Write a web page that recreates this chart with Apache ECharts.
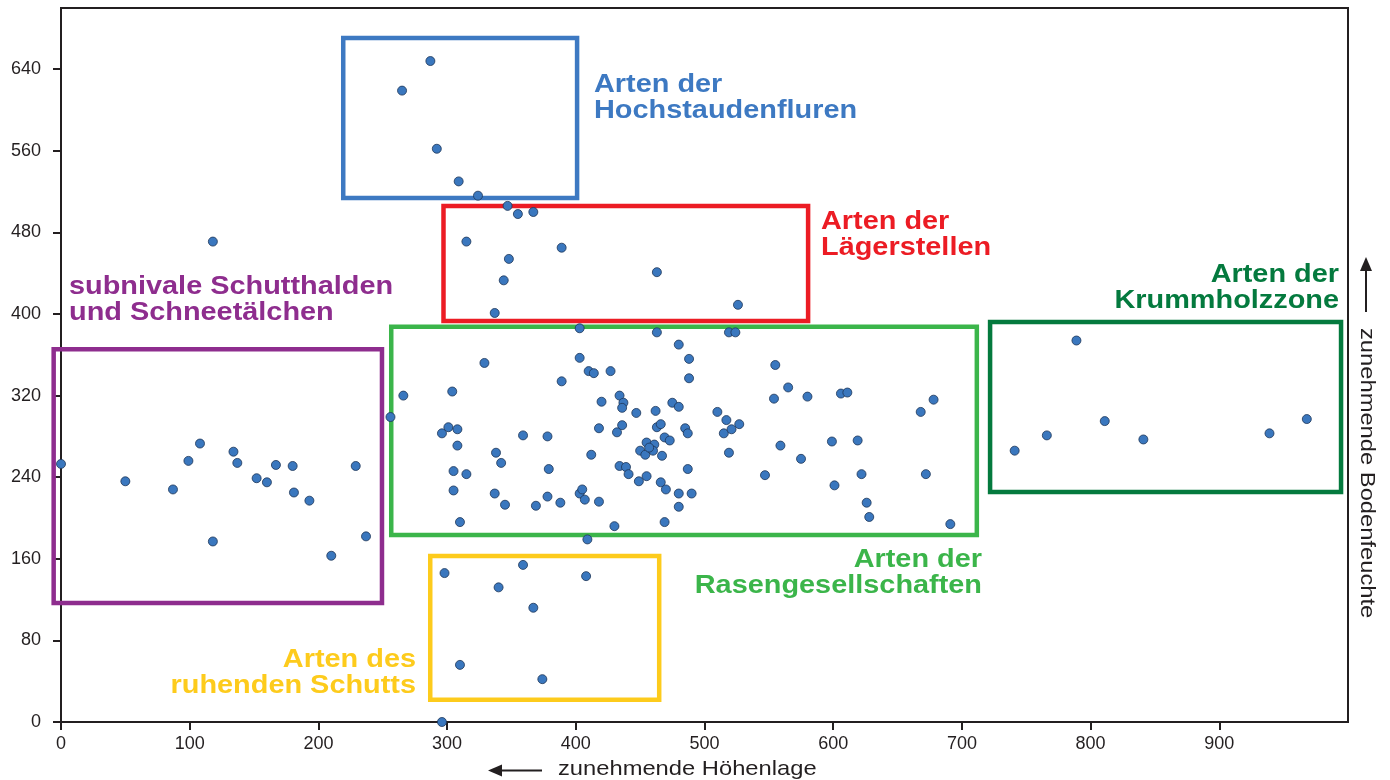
<!DOCTYPE html>
<html>
<head>
<meta charset="utf-8">
<script src="https://cdn.jsdelivr.net/npm/echarts@6/dist/echarts.min.js"></script>
<style>
html,body{margin:0;padding:0;background:#fff;}
#chart{width:1390px;height:780px;}
</style>
</head>
<body>
<div id="chart"></div>
<script>
// ---- tick labels ----
const xTicks = [0, 100, 200, 300, 400, 500, 600, 700, 800, 900];
const yTicks = [0, 80, 160, 240, 320, 400, 480, 560, 640];

// ---- species points per zone [Höhenlage, Bodenfeuchte] ----
const hochstauden = [[287,648],[265,619],[292,562],[309,530],[324,516]];
const laegerstellen = [[347,506],[355,498],[367,500],[315,471],[389,465],[348,454],[344,433],[463,441],[526,409],[337,401]];
const subnival = [[118,471],[0,253],[50,236],[87,228],[99,256],[108,273],[134,265],[137,254],[152,239],[160,235],[167,252],[180,251],[181,225],[193,217],[229,251],[237,182],[210,163],[118,177]];
const krummholz = [[789,374],[741,266],[766,281],[811,295],[841,277],[939,283],[968,297]];
const schutt = [[298,146],[359,154],[408,143],[340,132],[367,112],[310,56],[374,42],[296,0]];
const rasen = [[403,386],[463,382],[519,382],[524,382],[480,370],[488,356],[488,337],[403,357],[410,344],[414,342],[427,344],[389,334],[329,352],[266,320],[304,324],[256,299],[296,283],[301,289],[308,287],[308,271],[359,281],[378,280],[338,264],[342,254],[305,246],[315,243],[379,248],[305,227],[337,224],[345,213],[369,212],[378,221],[388,215],[310,196],[412,262],[403,224],[405,228],[407,218],[418,216],[430,192],[409,179],[420,314],[434,320],[437,313],[436,308],[447,303],[462,305],[418,288],[436,291],[432,284],[463,289],[466,292],[475,313],[480,309],[469,279],[473,276],[485,288],[487,283],[455,274],[461,272],[450,266],[454,262],[460,266],[457,269],[467,261],[434,251],[439,250],[441,243],[455,241],[449,236],[466,235],[470,228],[480,224],[490,224],[480,211],[469,196],[487,248],[510,304],[517,296],[515,283],[519,264],[521,287],[527,292],[555,350],[565,328],[554,317],[580,319],[606,322],[611,323],[668,304],[678,316],[559,271],[575,258],[599,275],[619,276],[547,242],[601,232],[622,243],[626,215],[628,201],[672,243],[691,194]];

// ---- zone boxes [xFrom, yFrom, xTo, yTo] ----
const zoneNames = ['Hochstaudenfluren','Lägerstellen','Rasengesellschaften','Krummholzzone','Schneetälchen','Schutt'];
const zoneBoxes = [[219.3,513.8,401,670.7],[297.2,393.2,580.5,506],[256.6,183.4,711.6,387.6],[721.9,225.5,994.6,392.2],[-5.7,116.7,249.4,365.5],[286.9,21.9,464.8,162.8]];
const zoneColors = ['#3d79c2','#ec1c24','#3bb54a','#047a3e','#8e2d8e','#fdcb1c'];

const chart = echarts.init(document.getElementById('chart'), null, {renderer:'canvas'});
const FONT = '"Liberation Sans", Arial, Helvetica, sans-serif';
const AX = '#231f20';

function pointSeries(name, data){
  return {
    name, type:'scatter', data, symbol:'circle', symbolSize:9, clip:false, z:5,
    itemStyle:{color:'#3a77be', borderColor:'#1d3557', borderWidth:0.8, opacity:1}
  };
}

function bold(text, x, y, color, align){
  return {type:'text', x, y, scaleX:1.155, z:10,
    style:{text, fill:color, font:'bold 25px ' + FONT, align, verticalAlign:'middle'}};
}

const option = {
  animation:false,
  backgroundColor:'#ffffff',
  grid:{left:61, right:42, top:8, bottom:58, show:true, borderColor:AX, borderWidth:2, backgroundColor:'transparent'},
  xAxis:{
    type:'value', min:0, max:1000, interval:100,
    axisLine:{show:true, onZero:false, lineStyle:{color:AX, width:2}},
    axisTick:{show:true, length:8, lineStyle:{color:AX, width:2}, customValues:xTicks},
    axisLabel:{show:true, customValues:xTicks, fontSize:18, color:AX, margin:13, fontFamily:FONT},
    splitLine:{show:false}
  },
  yAxis:{
    type:'value', min:0, max:700, interval:80,
    axisLine:{show:true, onZero:false, lineStyle:{color:AX, width:2}},
    axisTick:{show:true, length:8, lineStyle:{color:AX, width:2}, customValues:yTicks},
    axisLabel:{show:true, customValues:yTicks, fontSize:18, color:AX, margin:20, fontFamily:FONT},
    splitLine:{show:false}
  },
  series:[
    {
      type:'custom', name:'Zonen', clip:false, z:2,
      encode:{x:[0,2], y:[1,3]},
      data: zoneBoxes,
      renderItem:function(params, api){
        const a = api.coord([api.value(0), api.value(3)]);
        const b = api.coord([api.value(2), api.value(1)]);
        return {type:'rect', shape:{x:a[0], y:a[1], width:b[0]-a[0], height:b[1]-a[1]},
          style:{fill:'none', stroke:zoneColors[params.dataIndex], lineWidth:4.5}};
      }
    },
    pointSeries('Hochstaudenfluren', hochstauden),
    pointSeries('Lägerstellen', laegerstellen),
    pointSeries('Schneetälchen', subnival),
    pointSeries('Krummholzzone', krummholz),
    pointSeries('Schutt', schutt),
    pointSeries('Rasengesellschaften', rasen)
  ],
  graphic:[
    bold('Arten der', 594, 85, zoneColors[0], 'left'),
    bold('Hochstaudenfluren', 594, 111, zoneColors[0], 'left'),
    bold('Arten der', 821, 222, zoneColors[1], 'left'),
    bold('Lägerstellen', 821, 248, zoneColors[1], 'left'),
    bold('subnivale Schutthalden', 69, 287, zoneColors[4], 'left'),
    bold('und Schneetälchen', 69, 313, zoneColors[4], 'left'),
    bold('Arten der', 1339, 275, zoneColors[3], 'right'),
    bold('Krummholzzone', 1339, 301, zoneColors[3], 'right'),
    bold('Arten der', 982, 560, zoneColors[2], 'right'),
    bold('Rasengesellschaften', 982, 586, zoneColors[2], 'right'),
    bold('Arten des', 416, 660, zoneColors[5], 'right'),
    bold('ruhenden Schutts', 416, 686, zoneColors[5], 'right'),
    // x-axis title with arrow
    {type:'text', x:558, y:769, scaleX:1.13, style:{text:'zunehmende Höhenlage', fill:AX, font:'21px ' + FONT, align:'left', verticalAlign:'middle'}},
    {type:'line', shape:{x1:542, y1:770.5, x2:498, y2:770.5}, style:{stroke:AX, lineWidth:2}},
    {type:'polygon', shape:{points:[[488,770.5],[502,764.5],[502,776.5]]}, style:{fill:AX}},
    // y-axis title with arrow (right side)
    {type:'text', x:1367, y:328, rotation:-Math.PI/2, scaleX:1.13, style:{text:'zunehmende Bodenfeuchte', fill:AX, font:'21px ' + FONT, align:'left', verticalAlign:'middle'}},
    {type:'line', shape:{x1:1366, y1:312, x2:1366, y2:268}, style:{stroke:AX, lineWidth:2}},
    {type:'polygon', shape:{points:[[1366,257],[1360,271],[1372,271]]}, style:{fill:AX}}
  ]
};
chart.setOption(option);
</script>
</body>
</html>
